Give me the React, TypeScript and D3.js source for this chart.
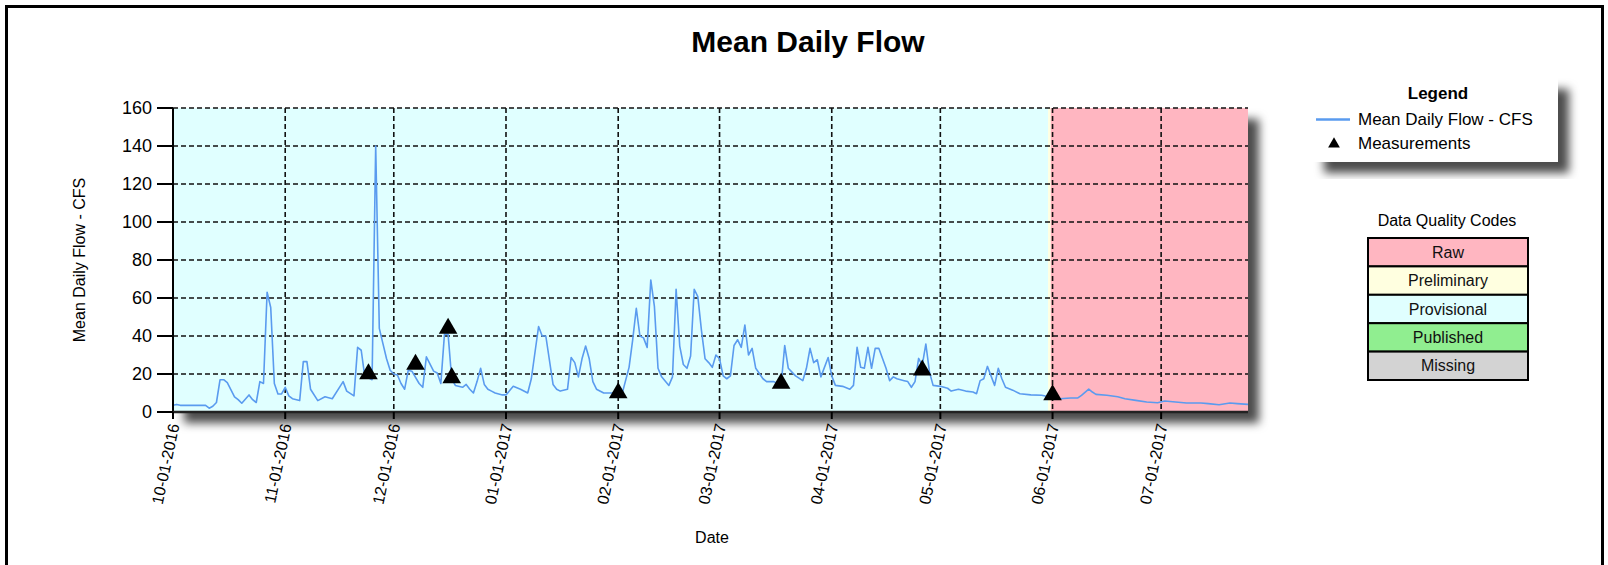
import React from "react";
import * as d3 from "d3";

// mean daily flow (date, cfs)
const flowDates = [
  "2016-10-01", "2016-10-02", "2016-10-03", "2016-10-06", "2016-10-10", "2016-10-11", "2016-10-12", "2016-10-13",
  "2016-10-14", "2016-10-15", "2016-10-16", "2016-10-18", "2016-10-19", "2016-10-20", "2016-10-22", "2016-10-23",
  "2016-10-24", "2016-10-25", "2016-10-26", "2016-10-27", "2016-10-28", "2016-10-29", "2016-10-30", "2016-10-31",
  "2016-11-01", "2016-11-02", "2016-11-03", "2016-11-05", "2016-11-06", "2016-11-07", "2016-11-08", "2016-11-10",
  "2016-11-12", "2016-11-14", "2016-11-17", "2016-11-18", "2016-11-20", "2016-11-21", "2016-11-22", "2016-11-23",
  "2016-11-24", "2016-11-25", "2016-11-26", "2016-11-27", "2016-11-28", "2016-11-29", "2016-11-30", "2016-12-01",
  "2016-12-02", "2016-12-03", "2016-12-04", "2016-12-05", "2016-12-06", "2016-12-08", "2016-12-09", "2016-12-10",
  "2016-12-12", "2016-12-13", "2016-12-14", "2016-12-15", "2016-12-16", "2016-12-17", "2016-12-18", "2016-12-20",
  "2016-12-21", "2016-12-22", "2016-12-23", "2016-12-24", "2016-12-25", "2016-12-26", "2016-12-27", "2016-12-28",
  "2016-12-29", "2016-12-31", "2017-01-01", "2017-01-03", "2017-01-05", "2017-01-07", "2017-01-08", "2017-01-10",
  "2017-01-11", "2017-01-12", "2017-01-14", "2017-01-15", "2017-01-16", "2017-01-18", "2017-01-19", "2017-01-20",
  "2017-01-21", "2017-01-22", "2017-01-23", "2017-01-24", "2017-01-25", "2017-01-26", "2017-01-28", "2017-01-30",
  "2017-01-31", "2017-02-02", "2017-02-04", "2017-02-05", "2017-02-06", "2017-02-07", "2017-02-08", "2017-02-09",
  "2017-02-10", "2017-02-11", "2017-02-12", "2017-02-13", "2017-02-15", "2017-02-16", "2017-02-17", "2017-02-18",
  "2017-02-19", "2017-02-20", "2017-02-21", "2017-02-22", "2017-02-23", "2017-02-24", "2017-02-25", "2017-02-26",
  "2017-02-27", "2017-02-28", "2017-03-01", "2017-03-02", "2017-03-03", "2017-03-04", "2017-03-05", "2017-03-06",
  "2017-03-07", "2017-03-08", "2017-03-09", "2017-03-10", "2017-03-11", "2017-03-13", "2017-03-14", "2017-03-16",
  "2017-03-18", "2017-03-19", "2017-03-20", "2017-03-21", "2017-03-22", "2017-03-24", "2017-03-25", "2017-03-26",
  "2017-03-27", "2017-03-28", "2017-03-29", "2017-03-31", "2017-04-01", "2017-04-02", "2017-04-04", "2017-04-06",
  "2017-04-07", "2017-04-08", "2017-04-09", "2017-04-10", "2017-04-11", "2017-04-12", "2017-04-13", "2017-04-14",
  "2017-04-16", "2017-04-17", "2017-04-18", "2017-04-19", "2017-04-21", "2017-04-22", "2017-04-23", "2017-04-24",
  "2017-04-25", "2017-04-26", "2017-04-27", "2017-04-28", "2017-04-29", "2017-05-01", "2017-05-03", "2017-05-04",
  "2017-05-06", "2017-05-08", "2017-05-10", "2017-05-11", "2017-05-12", "2017-05-13", "2017-05-14", "2017-05-15",
  "2017-05-16", "2017-05-17", "2017-05-18", "2017-05-19", "2017-05-21", "2017-05-23", "2017-05-26", "2017-05-29",
  "2017-05-30", "2017-06-01", "2017-06-03", "2017-06-06", "2017-06-08", "2017-06-09", "2017-06-11", "2017-06-12",
  "2017-06-13", "2017-06-16", "2017-06-19", "2017-06-21", "2017-06-24", "2017-06-27", "2017-06-30", "2017-07-02",
  "2017-07-05", "2017-07-08", "2017-07-12", "2017-07-14", "2017-07-17", "2017-07-20", "2017-07-22", "2017-07-25",
];
const flowValues = [
  3.5, 4, 3.5, 3.5, 3.5, 2, 3, 5,
  17, 17, 15.5, 8, 6.5, 4.6, 9, 6.5,
  5, 16, 15, 63, 55, 15, 9.5, 9.5,
  13, 8.5, 7, 6, 26.5, 26.5, 12, 6,
  8, 7, 16, 11, 8.5, 34, 32.5, 18.5,
  18, 17, 140, 44, 36, 28, 22, 20,
  19.5, 15, 12, 22, 21.5, 15, 13, 29,
  21.5, 20.5, 15, 41, 41, 17.5, 14, 13,
  14.5, 12, 10, 16, 23, 14.5, 12, 11,
  10, 9, 9, 13.5, 12, 10, 17.5, 45,
  40, 40, 14.5, 12, 11, 12, 28.7, 26,
  18.5, 28, 34.7, 28, 16, 12, 10, 10,
  10, 9, 23.5, 38, 54.6, 40, 39, 34,
  69.5, 55.6, 23, 18.5, 14, 18.5, 64.6, 34.7,
  25, 23, 29.5, 64.6, 60.7, 43, 28, 26,
  23.5, 30, 28, 19, 17.5, 19, 35, 38,
  34, 45.8, 30, 33.5, 23, 17.5, 16, 16,
  14, 35, 23, 21, 19, 16.5, 23, 33.5,
  26, 27.5, 18.5, 28.7, 19, 14, 13.5, 12,
  14, 34, 23.5, 23, 34, 23, 33.5, 33.5,
  23, 16.5, 18.5, 17.5, 16.5, 16, 13, 16,
  28.2, 24.5, 35.8, 21, 14, 13.5, 12.5, 11,
  12, 11, 10.5, 9.6, 16.5, 17.5, 24, 19,
  14, 23, 17.5, 13, 11.5, 9.6, 9, 8.8,
  8.4, 7.9, 7, 7.4, 7.4, 8.8, 12, 10.5,
  9.3, 8.8, 8, 7, 6.1, 5.3, 4.9, 5.8,
  5.3, 4.7, 4.7, 4.4, 3.8, 4.7, 4.4, 4,
];

const measurementDates = ["2016-11-24", "2016-12-07", "2016-12-16", "2016-12-17", "2017-02-01", "2017-03-18", "2017-04-26", "2017-06-01"];
const measurementValues = [20, 25, 44, 18, 10, 15, 22, 9];

// data quality periods shown behind the line
const periodStarts = ["2016-10-01T00:00", "2017-05-30T19:00", "2017-05-31T12:00"];
const periodEnds = ["2017-05-30T19:00", "2017-05-31T12:00", "2017-07-25T00:00"];
const periodCodes = ["Provisional", "Preliminary", "Raw"];

const qualityCodes = ["Raw", "Preliminary", "Provisional", "Published", "Missing"];
const qualityColors = ["#FFB6C1", "#FFFFE0", "#E0FFFF", "#90EE90", "#D3D3D3"];

const yTicks = [0, 20, 40, 60, 80, 100, 120, 140, 160];

const FONT = "'Liberation Sans', Arial, sans-serif";

export default function App() {
  const W = 1608, H = 565;
  const left = 173, right = 1248, top = 108, bottom = 412;

  const parseDay = d3.timeParse("%Y-%m-%d");
  const parseTime = d3.timeParse("%Y-%m-%dT%H:%M");
  const fmt = d3.timeFormat("%m-%d-%Y");

  const x = d3
    .scaleTime()
    .domain([parseDay("2016-10-01")!, parseDay("2017-07-25")!])
    .range([left, right]);
  const y = d3.scaleLinear().domain([0, 160]).range([bottom, top]);

  const flow = flowDates.map((d, i) => ({ date: parseDay(d)!, value: flowValues[i] }));
  const meas = measurementDates.map((d, i) => ({ date: parseDay(d)!, value: measurementValues[i] }));
  const line = d3
    .line<{ date: Date; value: number }>()
    .x((d) => x(d.date))
    .y((d) => y(d.value));

  const monthTicks = d3.timeMonth.range(x.domain()[0], x.domain()[1]);
  const colorOf = (code: string) => qualityColors[qualityCodes.indexOf(code)];

  const tri = d3.symbol().type(d3.symbolTriangle).size(150)();
  const triSmall = d3.symbol().type(d3.symbolTriangle).size(60)();

  // data quality table
  const tx = 1368, tw = 160, ty = 238, rowH = 28.4;

  return (
    <>
      <style>{`body{margin:0}`}</style>
      <svg width={W} height={H} style={{ display: "block", background: "#fff" }} fontFamily={FONT}>
        <defs>
          <filter id="shadow" x="-5%" y="-10%" width="115%" height="130%">
            <feDropShadow dx="11" dy="11" stdDeviation="5" floodColor="#000" floodOpacity="0.7" />
          </filter>
          <clipPath id="plotClip">
            <rect x={left} y={top} width={right - left} height={bottom - top} />
          </clipPath>
        </defs>

        {/* outer frame */}
        <rect x={6.5} y={6.5} width={1596} height={620} fill="none" stroke="#000" strokeWidth={3} />

        <text x={808} y={52} textAnchor="middle" fontSize={30} fontWeight="bold" fill="#000">
          Mean Daily Flow
        </text>

        {/* plot area with shadow */}
        <rect x={left} y={top} width={right - left} height={bottom - top} fill="#fff" filter="url(#shadow)" />
        {periodCodes.map((c, i) => (
          <rect
            key={c}
            x={x(parseTime(periodStarts[i])!)}
            y={top}
            width={x(parseTime(periodEnds[i])!) - x(parseTime(periodStarts[i])!)}
            height={bottom - top}
            fill={colorOf(c)}
          />
        ))}

        {/* grid */}
        {yTicks.map((t) => (
          <line key={"gy" + t} x1={left} x2={right} y1={y(t)} y2={y(t)} stroke="#111" strokeWidth={1.6} strokeDasharray="5,3" />
        ))}
        {monthTicks.map((m) => (
          <line key={"gx" + m.getTime()} x1={x(m)} x2={x(m)} y1={top} y2={bottom} stroke="#111" strokeWidth={1.6} strokeDasharray="5,3" />
        ))}

        {/* series */}
        <path d={line(flow) || ""} fill="none" stroke="#5A9BEF" strokeWidth={1.6} strokeLinejoin="round" clipPath="url(#plotClip)" />
        {meas.map((d, i) => (
          <path key={"m" + i} d={tri || ""} transform={`translate(${x(d.date)},${y(d.value)})`} fill="#000" />
        ))}

        {/* axes */}
        <line x1={left} x2={left} y1={top} y2={bottom + 1} stroke="#000" strokeWidth={2} />
        <line x1={left - 1} x2={right} y1={bottom} y2={bottom} stroke="#222" strokeWidth={2.5} />
        {yTicks.map((t) => (
          <g key={"ty" + t}>
            <line x1={157} x2={left} y1={y(t)} y2={y(t)} stroke="#000" strokeWidth={2} />
            <text x={152} y={y(t)} dy="0.35em" textAnchor="end" fontSize={18} fill="#000">
              {t}
            </text>
          </g>
        ))}
        {monthTicks.map((m) => (
          <g key={"tx" + m.getTime()}>
            <line x1={x(m)} x2={x(m)} y1={bottom} y2={bottom + 7} stroke="#000" strokeWidth={2} />
            <text
              transform={`translate(${x(m) + 1},${424}) rotate(-78)`}
              dy="0.35em"
              textAnchor="end"
              fontSize={16}
              fill="#000"
            >
              {fmt(m)}
            </text>
          </g>
        ))}

        <text transform={`translate(85,260) rotate(-90)`} textAnchor="middle" fontSize={16} fill="#000">
          Mean Daily Flow - CFS
        </text>
        <text x={712} y={543} textAnchor="middle" fontSize={16} fill="#000">
          Date
        </text>

        {/* legend */}
        <rect x={1313} y={78} width={245} height={84} fill="#fff" filter="url(#shadow)" />
        <text x={1438} y={99} textAnchor="middle" fontSize={17} fontWeight="bold" fill="#000">
          Legend
        </text>
        <line x1={1316} x2={1350} y1={119.5} y2={119.5} stroke="#5A9BEF" strokeWidth={2.5} />
        <text x={1358} y={125} fontSize={17} fill="#000">
          Mean Daily Flow - CFS
        </text>
        <path d={triSmall || ""} transform="translate(1334,144)" fill="#000" />
        <text x={1358} y={149} fontSize={17} fill="#000">
          Measurements
        </text>

        {/* data quality codes */}
        <text x={1447} y={226} textAnchor="middle" fontSize={16} fill="#000">
          Data Quality Codes
        </text>
        {qualityCodes.map((c, i) => (
          <g key={c}>
            <rect x={tx} y={ty + i * rowH} width={tw} height={rowH} fill={qualityColors[i]} stroke="#000" strokeWidth={2} />
            <text x={tx + tw / 2} y={ty + i * rowH + rowH / 2} dy="0.35em" textAnchor="middle" fontSize={16} fill="#111">
              {c}
            </text>
          </g>
        ))}
      </svg>
    </>
  );
}
